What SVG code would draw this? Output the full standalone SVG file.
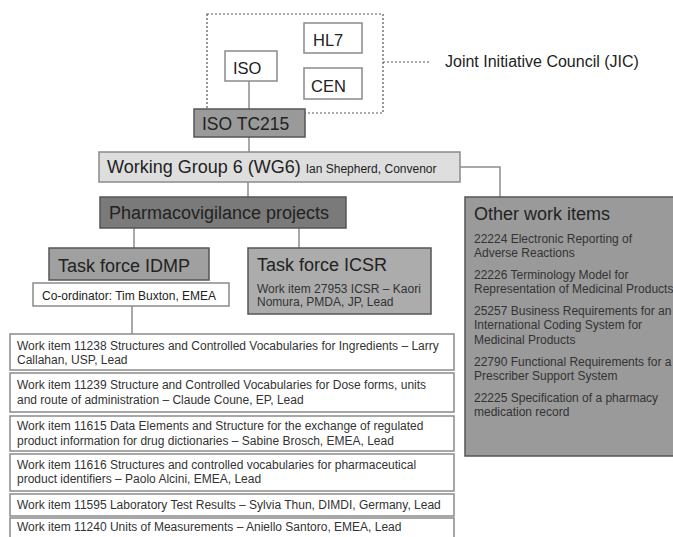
<svg xmlns="http://www.w3.org/2000/svg" width="673" height="537" viewBox="0 0 673 537">
<style>
text{font-family:"Liberation Sans",Arial,sans-serif;fill:#222}
.w{fill:#fff;stroke:#8a8a8a;stroke-width:1.5}
.g{stroke:#555;stroke-width:1.5}
.ln{stroke:#8c8c8c;stroke-width:1.5;fill:none}
.s11{font-size:12px;fill:#333}
</style>
<g id="connectors">
<line class="ln" x1="249" y1="81" x2="249" y2="109"/>
<line class="ln" x1="249" y1="137" x2="249" y2="152"/>
<line class="ln" x1="248" y1="182" x2="248" y2="197"/>
<polyline class="ln" points="460,167 500,167 500,197"/>
<line class="ln" x1="134" y1="228" x2="134" y2="248"/>
<line class="ln" x1="299" y1="228" x2="299" y2="248"/>
<line class="ln" x1="132" y1="306" x2="132" y2="334"/>
<line stroke="#555" stroke-width="1.2" stroke-dasharray="2,2" x1="383" y1="62" x2="430" y2="62"/>
</g>
<g id="jic">
<rect x="207" y="14" width="176" height="99" fill="none" stroke="#555" stroke-width="1.2" stroke-dasharray="2,2"/>
<text x="445" y="67" font-size="16">Joint Initiative Council (JIC)</text>
</g>
<g id="hl7"><rect class="w" x="304" y="23" width="58" height="30"/><text x="313" y="46" font-size="16.5">HL7</text></g>
<g id="cen"><rect class="w" x="304" y="68" width="58" height="31"/><text x="311" y="92" font-size="16.5">CEN</text></g>
<g id="iso"><rect class="w" x="225" y="51" width="52" height="30"/><text x="233" y="74" font-size="16.5">ISO</text></g>
<g id="tc215"><rect class="g" x="194" y="109" width="111" height="28" fill="#9a9a9a"/><text x="202" y="130" font-size="17.5">ISO TC215</text></g>
<g id="wg6"><rect x="99" y="152" width="361" height="30" fill="#dedede" stroke="#8a8a8a" stroke-width="1.5"/><text x="107" y="173" font-size="18">Working Group 6 (WG6) <tspan font-size="12">Ian Shepherd, Convenor</tspan></text></g>
<g id="pharma"><rect class="g" x="100" y="197" width="246" height="31" fill="#7a7a7a"/><text x="109" y="219" font-size="18">Pharmacovigilance projects</text></g>
<g id="idmp"><rect class="g" x="49" y="248" width="160" height="32" fill="#a0a0a0"/><text x="58" y="272" font-size="18">Task force IDMP</text></g>
<g id="coord"><rect class="w" x="33" y="283" width="196" height="23"/><text x="42" y="300" font-size="12">Co-ordinator: Tim Buxton, EMEA</text></g>
<g id="icsr"><rect class="g" x="248" y="248" width="183" height="66" fill="#acacac"/><text x="257" y="271" font-size="18">Task force ICSR</text>
<text class="s11" x="257" y="293">Work item 27953 ICSR – Kaori</text><text class="s11" x="257" y="306">Nomura, PMDA, JP, Lead</text></g>
<g id="other"><rect x="465" y="197" width="212" height="259" fill="#9a9a9a" stroke="#555" stroke-width="1.5"/>
<text x="474" y="220" font-size="18">Other work items</text>
<text class="s11" x="474" y="243">22224 Electronic Reporting of</text>
<text class="s11" x="474" y="257">Adverse Reactions</text>
<text class="s11" x="474" y="279">22226 Terminology Model for</text>
<text class="s11" x="474" y="293">Representation of Medicinal Products</text>
<text class="s11" x="474" y="315">25257 Business Requirements for an</text>
<text class="s11" x="474" y="329">International Coding System for</text>
<text class="s11" x="474" y="344">Medicinal Products</text>
<text class="s11" x="474" y="366">22790 Functional Requirements for a</text>
<text class="s11" x="474" y="380">Prescriber Support System</text>
<text class="s11" x="474" y="402">22225 Specification of a pharmacy</text>
<text class="s11" x="474" y="416">medication record</text>
</g>
<g id="wi11238"><rect class="w" x="10" y="334" width="444" height="36"/><text class="s11" x="17" y="350">Work item 11238 Structures and Controlled Vocabularies for Ingredients – Larry</text><text class="s11" x="17" y="364">Callahan, USP, Lead</text></g>
<g id="wi11239"><rect class="w" x="10" y="373" width="444" height="39"/><text class="s11" x="17" y="389">Work item 11239 Structure and Controlled Vocabularies for Dose forms, units</text><text class="s11" x="17" y="404">and route of administration – Claude Coune, EP, Lead</text></g>
<g id="wi11615"><rect class="w" x="10" y="416" width="444" height="35"/><text class="s11" x="17" y="430">Work item 11615 Data Elements and Structure for the exchange of regulated</text><text class="s11" x="17" y="445">product information for drug dictionaries – Sabine Brosch, EMEA, Lead</text></g>
<g id="wi11616"><rect class="w" x="10" y="454" width="444" height="37"/><text class="s11" x="17" y="469">Work item 11616 Structures and controlled vocabularies for pharmaceutical</text><text class="s11" x="17" y="483">product identifiers – Paolo Alcini, EMEA, Lead</text></g>
<g id="wi11595"><rect class="w" x="10" y="494" width="444" height="22"/><text class="s11" x="17" y="509">Work item 11595 Laboratory Test Results – Sylvia Thun, DIMDI, Germany, Lead</text></g>
<g id="wi11240"><rect class="w" x="10" y="518" width="444" height="30"/><text class="s11" x="17" y="531">Work item 11240 Units of Measurements – Aniello Santoro, EMEA, Lead</text></g>
</svg>
